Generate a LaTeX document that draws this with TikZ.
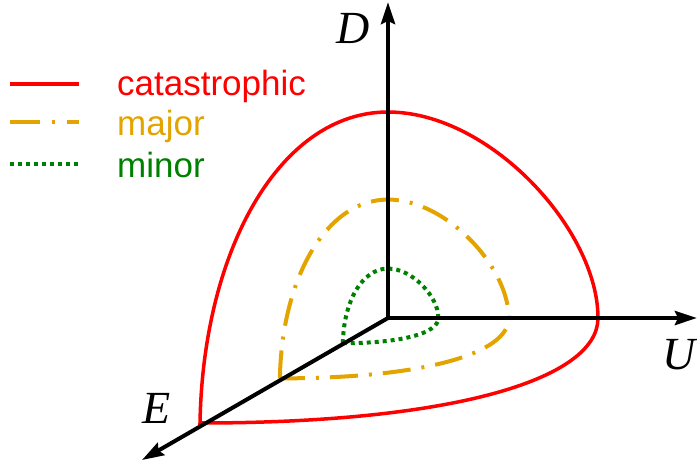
\documentclass[tikz,border=0pt]{standalone}
\usepackage{fontspec}
\setmainfont{Liberation Sans}
\newfontfamily\axfont{Liberation Serif}
\usetikzlibrary{arrows.meta}
\definecolor{cred}{RGB}{255,0,0}
\definecolor{corange}{RGB}{227,164,0}
\definecolor{cgreen}{RGB}{0,128,0}
\tikzset{
  axis/.style={line width=4pt, -{Stealth[length=22pt,width=14pt,inset=3pt]}},
  catline/.style={cred, line width=3.5pt},
  majline/.style={corange, line width=4pt, dash pattern=on 28pt off 11pt on 3pt off 11pt},
  minline/.style={cgreen, line width=4pt, dash pattern=on 4pt off 4pt},
  legtext/.style={anchor=base west, inner sep=0pt, font=\fontsize{35}{40}\selectfont},
  axlabel/.style={inner sep=0pt, font=\axfont\itshape\fontsize{46}{50}\selectfont}
}
\newcommand{\octshape}{(-188,105) .. controls (-185,-68) and (-108,-206) .. (0,-206)
   .. controls (102,-206) and (210,-88) .. (210,0)
   .. controls (210,62) and (62,105) .. (-188,105) -- cycle}
\begin{document}
\begin{tikzpicture}[x=1pt,y=-1pt]
\useasboundingbox (0,0) rectangle (697,463);
% curves
\begin{scope}[shift={(388,318)}]
  \draw[catline] \octshape;
  \begin{scope}[scale=0.575]
    \draw[majline] \octshape;
  \end{scope}
  \begin{scope}[scale=0.24]
    \draw[minline] \octshape;
  \end{scope}
\end{scope}
% axes
\coordinate (O) at (388,318);
\coordinate (Dtip) at (388,2);
\coordinate (Utip) at (697,318);
\coordinate (Etip) at (142,460);
\draw[axis] (O) -- (Dtip);
\draw[axis] (O) -- (Utip);
\draw[axis] (O) -- (Etip);
\node[axlabel] (Dl) at (353,28) {D};
\node[axlabel] (Ul) at (679,355) {U};
\node[axlabel] (El) at (157,408) {E};
% legend
\coordinate (l1a) at (10,84); \coordinate (l1b) at (79,84);
\coordinate (l2a) at (10,122); \coordinate (l2b) at (79,122);
\coordinate (l3a) at (10,164); \coordinate (l3b) at (79,164);
\draw[catline] (l1a) -- (l1b);
\draw[corange, line width=4pt, dash pattern=on 30pt off 12pt on 3pt off 12pt] (l2a) -- (l2b);
\draw[minline] (l3a) -- (l3b);
\node[legtext, text=cred] (t1) at (117,95) {catastrophic};
\node[legtext, text=corange] (t2) at (117,135) {major};
\node[legtext, text=cgreen] (t3) at (117,177) {minor};
\end{tikzpicture}
\end{document}
